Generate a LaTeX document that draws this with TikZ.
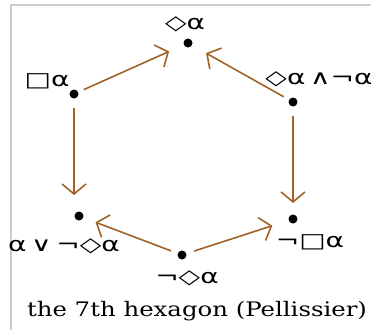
\documentclass[tikz,border=0pt]{standalone}
\usepackage{fontspec}
\newfontfamily\symf{DejaVu Sans}
\newfontfamily\capf{DejaVu Serif}
\usetikzlibrary{arrows.meta}
\definecolor{arrbrown}{RGB}{160,98,38}
\definecolor{framegray}{RGB}{205,205,205}
\tikzset{
  dot/.style={circle,fill=black,inner sep=0pt,minimum size=9pt},
  lab/.style={inner sep=0pt,xscale=1.4,font=\symf\fontsize{20}{20}\selectfont},
  arr/.style={draw=arrbrown,line width=1.6pt,-{Straight Barb[length=10pt,width=24pt]}},
}
\begin{document}
\begin{tikzpicture}[x=1pt,y=-1pt]
\useasboundingbox (0,0) rectangle (371,329);
\draw[framegray,line width=2pt] (10.5,340) -- (10.5,5.5) -- (380,5.5);
% dots
\node[dot] (t) at (188,43) {};
\node[dot] (ul) at (74,94) {};
\node[dot] (ur) at (293,102) {};
\node[dot] (ll) at (79,216) {};
\node[dot] (lr) at (293,219) {};
\node[dot] (b) at (182,255) {};
% labels
\node[lab] (tl) at (185,24) {◇α};
\node[lab] (ull) at (47,81) {□α};
\node[lab] (url) at (319,79) {◇α\,∧¬α};
\node[lab] (lll) at (64,246) {α\,∨\,¬◇α};
\node[lab] (lrl) at (310,242) {¬□α};
\node[lab] (bl) at (187,278) {¬◇α};
\node[inner sep=0pt,xscale=1.22,font=\capf\fontsize{20}{20}\selectfont] (cap) at (197,311) {the 7th hexagon (Pellissier)};
% arrows
\draw[arr,shorten <=6pt,shorten >=16pt] (ul) -- (t);
\draw[arr,shorten <=6pt,shorten >=16pt] (ur) -- (t);
\draw[arr,shorten <=9pt,shorten >=21pt] (ul) -- (ul |- ll);
\draw[arr,shorten <=9pt,shorten >=16pt] (ur) -- (ur |- lr);
\draw[arr,shorten <=7pt,shorten >=13pt] (b) -- (ll);
\draw[arr,shorten <=8pt,shorten >=17pt] (b) -- (lr);
\end{tikzpicture}
\end{document}
